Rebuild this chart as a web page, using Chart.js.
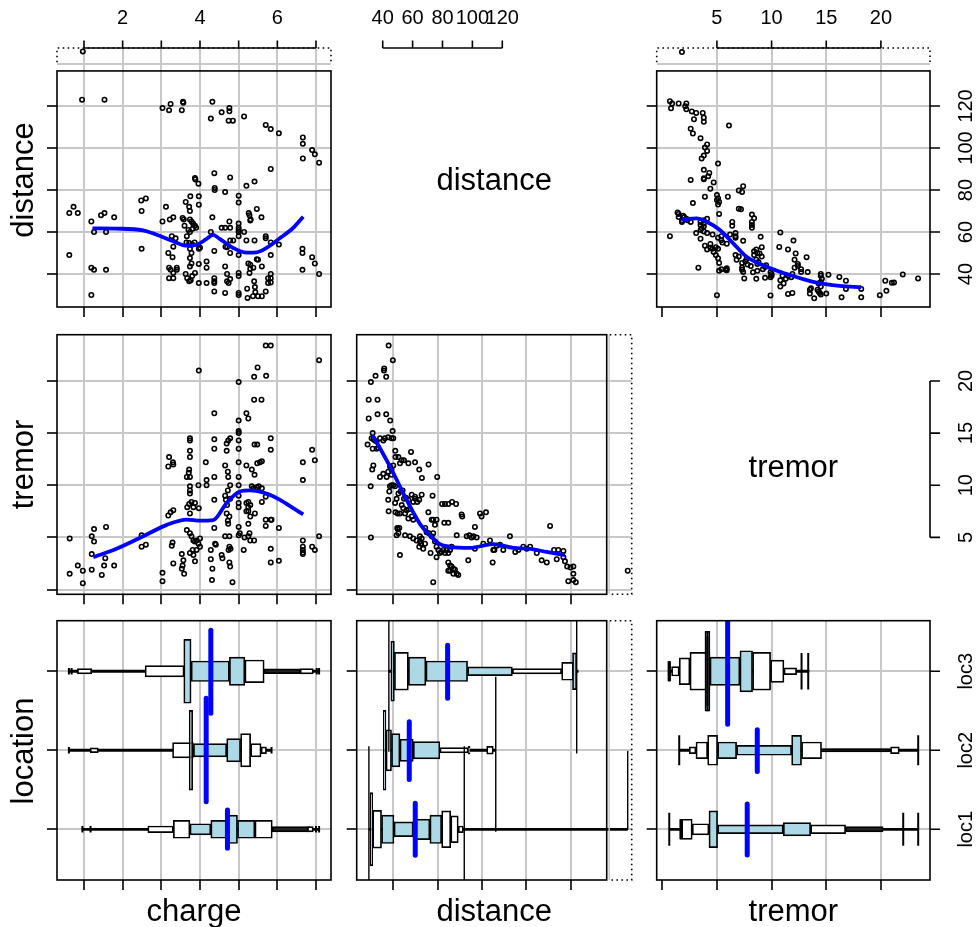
<!DOCTYPE html>
<html>
<head>
<meta charset="utf-8">
<script src="https://cdn.jsdelivr.net/npm/chart.js@4.4.1/dist/chart.umd.min.js"></script>
<style>
  html, body { margin: 0; padding: 0; background: #fff; }
  #wrap { position: relative; width: 977px; height: 927px; }
  #wrap canvas { position: absolute; left: 0; top: 0; }
</style>
</head>
<body>
<div id="wrap"></div>
<script>
// ---------------- data ----------------
const locations = ['loc1', 'loc2', 'loc3'];
const chargeTicks = [1, 2, 3, 4, 5, 6, 7];
const chargeLabels = [2, 4, 6];
const distanceTicks = [40, 60, 80, 100, 120];
const distanceRowTicks = [40, 60, 80, 100, 120, 140];
const tremorTicks = [0, 5, 10, 15, 20];
const tremorLabels = [5, 10, 15, 20];

// [charge, distance]
const chargeDistance = [
  [0.97,146],[0.95,123],[1.53,123],[3.03,119],[3.2,118],[3.24,121],[3.53,118],[3.56,122],[3.57,121.5],
  [4.32,122],[4.28,114],[4.56,117],[4.76,119],[4.76,117.5],[4.74,113],[4.85,113],[5.14,115],[5.7,111],
  [5.83,109],[6.04,107],[6.66,105],[6.66,102],[6.66,95],[6.9,99],[6.97,97],[7.08,93],[5.83,90],[4.37,88],
  [4.78,86],[3.87,85.7],[3.88,85],[3.96,83],[5.2,82],[5.41,84],[4.38,81],[4.38,80],[4.65,79],[5.0,77.3],
  [5.0,74],[3.97,77],[3.75,77],[3.97,73],[3.63,74.3],[3.72,72],[3.74,70],[3.12,72],[2.48,75],[2.6,76],
  [2.49,70],[0.62,69],[0.73,72],[0.84,69],[1.19,65],[1.44,68],[1.53,69],[1.78,67],[1.26,60],[1.57,60],
  [0.62,49],[1.19,43],[1.26,42],[1.57,42],[1.19,30],[2.49,52],[3.03,65],[3.22,66],[3.31,67],[3.55,66.7],
  [3.58,66],[3.74,66],[3.78,65],[3.82,64],[3.87,63],[3.81,61.5],[3.74,60],[3.7,61],[3.6,63],[3.66,58],
  [3.9,62],[4.32,67],[4.56,62],[4.65,62],[4.78,62],[4.76,65],[5.0,64],[5.0,62],[5.0,61],[5.26,69],
  [5.28,68],[5.31,66],[5.3,65.5],[5.47,71],[5.59,67],[4.28,60],[3.97,52],[3.27,58],[3.37,57],[3.31,53],
  [3.65,55],[3.72,54.8],[3.8,54],[3.86,55],[4.37,51],[4.66,53],[4.7,52.7],[4.78,56],[4.86,56],[5.0,60],
  [5.0,58],[5.14,60],[5.2,56],[5.41,56],[5.7,58],[5.7,57],[5.83,55],[6.04,54],[5.83,49],[5.0,49],
  [4.78,50],[6.65,52],[6.65,50],[6.9,48],[6.97,45],[7.08,40],[6.65,42],[3.18,50],[3.29,48],[3.2,43],
  [3.24,42],[3.31,40.5],[3.2,38],[3.31,38],[3.4,43],[3.4,42],[3.63,40],[3.67,38],[3.72,36.5],[3.76,37],
  [3.8,39],[3.74,43.6],[3.78,45],[3.74,47.6],[3.78,50],[3.74,52],[3.97,44.8],[3.87,40.5],[3.97,35.7],
  [4.17,46],[4.17,43],[4.17,35.7],[4.37,38],[4.37,36.5],[4.37,35.7],[4.37,31.7],[4.65,43.6],[4.7,40],
  [4.7,36.5],[4.74,35.7],[4.78,37.6],[4.65,31],[5.0,40.5],[5.0,39],[5.0,31],[5.0,30],[5.22,33],[5.23,28.6],
  [5.25,45],[5.3,44.4],[5.3,42.5],[5.28,40.5],[5.47,47],[5.5,46.8],[5.38,43],[5.4,36.5],[5.42,33.8],
  [5.43,31.4],[5.37,29.4],[5.5,29.4],[5.6,29.4],[5.7,31.7],[5.6,43.6],[5.76,38],[5.83,40],[5.83,38],
  [5.83,36],[5.76,35.7],[4.0,52.5]
];

// [charge, tremor]
const chargeTremor = [
  [0.63,4.9],[0.63,1.5],[0.84,2.3],[0.97,1.8],[0.97,0.6],[1.2,5.1],[1.26,4.6],[1.26,5.8],[1.2,3.4],[1.2,1.9],
  [1.46,1.4],[1.52,2.3],[1.55,3.0],[1.57,6.0],[1.78,2.3],[2.49,5.2],[2.49,4.1],[2.6,4.3],[3.03,1.6],[3.03,0.8],
  [3.2,12.7],[3.18,11.8],[3.31,12.0],[3.3,12.2],[3.18,7.1],[3.24,7.4],[3.31,7.6],[3.27,4.2],[3.29,4.5],[3.31,2.5],
  [3.53,3.4],[3.57,2.8],[3.55,2.3],[3.59,1.5],[3.53,2.0],[3.66,10.8],[3.71,11.2],[3.72,11.5],[3.74,10.8],
  [3.74,9.9],[3.74,9.5],[3.74,9.2],[3.72,8.2],[3.78,8.4],[3.83,7.9],[3.74,7.3],[3.67,7.9],[3.74,14.5],
  [3.74,14.3],[3.74,13.3],[3.74,12.7],[3.97,21.0],[3.96,10.0],[3.97,7.8],[3.87,8.3],[3.66,5.7],[3.74,5.4],
  [3.78,5.1],[3.83,4.7],[3.87,4.6],[3.91,4.7],[3.96,4.4],[4.0,4.9],[4.0,4.1],[3.91,3.8],[3.81,3.8],[3.74,3.5],
  [3.83,3.3],[3.87,2.7],[4.17,10.5],[4.17,10.0],[4.15,12.2],[4.37,16.9],[4.37,14.4],[4.37,13.5],[4.37,10.8],
  [4.37,8.6],[4.37,5.9],[4.28,3.8],[4.39,4.4],[4.41,4.3],[4.28,2.9],[4.32,2.0],[4.31,0.9],[4.56,3.3],[4.58,3.0],
  [4.69,14.0],[4.73,14.3],[4.78,14.5],[4.69,13.3],[4.65,11.9],[4.72,11.3],[4.73,10.8],[4.78,10.0],[4.72,9.5],
  [4.65,9.0],[4.67,8.6],[4.78,8.7],[4.7,8.1],[4.69,7.3],[4.76,7.0],[4.73,6.3],[4.72,6.6],[4.65,5.1],[4.76,5.1],
  [4.76,4.1],[4.79,3.9],[4.74,3.8],[4.76,2.6],[4.78,2.2],[4.84,0.7],[5.0,19.9],[5.0,16.2],[5.0,15.2],[5.0,15.0],
  [5.0,14.3],[5.0,13.5],[5.0,12.2],[5.0,10.8],[5.0,10.0],[5.0,9.0],[5.0,8.3],[5.0,7.9],[5.0,6.0],[5.0,5.2],
  [5.2,16.9],[5.25,16.4],[5.2,11.9],[5.34,11.5],[5.41,11.0],[5.48,12.1],[5.55,12.2],[5.6,12.3],[5.41,13.9],
  [5.48,13.9],[5.4,18.2],[5.59,18.2],[5.4,20.4],[5.49,21.3],[5.71,20.5],[5.7,23.4],[5.83,23.4],[5.83,14.5],
  [5.83,13.4],[5.6,9.7],[5.47,9.8],[5.38,9.7],[5.2,8.3],[5.25,7.9],[5.3,8.1],[5.25,8.4],[5.25,7.5],[5.2,7.5],
  [5.3,7.0],[5.25,6.3],[5.42,7.3],[5.34,9.9],[5.52,9.9],[5.6,8.4],[5.7,8.9],[5.7,6.7],[5.83,6.7],[5.85,6.7],
  [5.7,6.1],[5.03,5.4],[5.15,5.0],[5.25,5.1],[5.28,5.4],[5.4,4.7],[5.3,4.7],[5.13,3.8],[5.83,3.9],[5.83,2.6],
  [6.04,5.9],[6.04,2.75],[6.66,12.2],[6.66,10.5],[6.9,13.4],[6.97,12.4],[7.08,22.0],[7.08,5.1],[6.66,4.7],
  [6.66,4.1],[6.66,3.8],[6.66,3.55],[6.66,3.4],[6.9,4.1],[6.97,3.8]
];

// [distance, tremor]
const distanceTremor = [
  [37.9,23.4],[39.8,22.0],[35.9,21.2],[35.8,21.0],[36.8,20.4],[32.0,20.5],[29.9,19.9],[28.9,18.2],[32.9,18.2],
  [32.9,16.8],[36.8,16.8],[28.9,16.4],[38.6,16.2],[39.7,15.2],[30.7,15.0],[28.4,13.9],[30.2,14.5],[31.0,14.4],
  [31.7,14.3],[32.5,14.2],[34.0,14.5],[35.5,14.3],[36.2,14.5],[37.7,14.6],[39.2,14.5],[40.0,14.5],[30.7,13.5],
  [32.5,13.5],[33.2,13.6],[40.9,13.3],[31.0,11.9],[30.5,11.5],[29.8,9.9],[29.9,5.0],[34.0,10.8],[35.5,11.1],
  [37.0,10.8],[37.7,11.3],[39.2,11.0],[39.2,11.5],[38.5,11.8],[40.0,11.9],[41.0,12.7],[42.3,12.7],[43.8,12.4],
  [44.8,12.4],[43.0,12.1],[46.8,12.1],[48.0,13.2],[49.8,12.2],[51.7,11.5],[52.9,10.7],[55.9,12.0],[59.8,10.8],
  [38.2,9.4],[37.7,8.6],[37.9,7.5],[38.5,9.9],[39.2,10.0],[40.0,10.0],[40.8,9.9],[40.8,8.3],[41.5,8.7],
  [41.0,7.4],[42.0,7.3],[41.8,5.9],[42.0,5.8],[43.0,7.3],[43.8,8.1],[44.5,7.8],[45.3,7.3],[46.0,7.6],[46.8,6.8],
  [47.0,7.7],[48.3,7.0],[49.0,6.7],[49.9,8.7],[50.8,8.4],[51.7,8.6],[52.8,9.1],[42.3,9.2],[43.3,9.4],[44.2,9.5],
  [44.8,8.7],[45.7,8.8],[46.8,8.6],[48.3,9.1],[49.0,8.4],[49.8,8.9],[41.5,5.2],[42.3,5.4],[42.7,5.9],[45.3,5.2],
  [43.0,3.3],[47.5,5.1],[49.0,4.9],[50.5,4.7],[52.0,4.6],[51.7,4.1],[52.5,4.4],[53.5,3.9],[54.3,4.4],[52.0,5.1],
  [52.8,4.9],[55.8,7.4],[57.3,6.7],[58.0,6.7],[59.5,6.7],[58.8,6.2],[57.7,9.0],[56.8,3.5],[58.0,0.7],[54.4,5.9],
  [55.0,5.5],[56.1,5.4],[57.3,5.1],[58.0,5.4],[58.8,4.6],[59.5,4.1],[60.3,3.8],[59.5,3.1],[61.0,3.5],[61.8,3.6],
  [62.6,3.8],[63.3,3.5],[64.1,3.8],[64.8,3.5],[65.6,3.8],[66.3,4.1],[62.0,8.2],[63.3,8.2],[64.8,8.2],[66.5,8.4],
  [68.3,8.2],[63.0,6.4],[64.8,6.4],[64.8,2.6],[65.6,2.3],[66.3,2.2],[67.1,2.0],[67.8,1.9],[68.6,1.5],[69.3,1.4],
  [67.1,1.5],[65.6,1.8],[64.8,1.8],[68.6,5.2],[70.8,7.2],[71.1,7.0],[73.1,5.1],[74.3,5.2],[75.3,5.0],[76.1,5.1],
  [76.8,6.0],[77.6,5.0],[76.8,3.9],[79.1,7.3],[79.8,7.0],[81.8,7.4],[73.8,2.8],[80.6,4.4],[83.6,4.7],[85.1,3.8],
  [85.6,3.8],[84.8,2.6],[86.6,4.2],[88.1,4.3],[89.6,3.8],[92.6,5.1],[95.0,3.6],[96.4,3.8],[98.6,4.1],[100.2,3.9],
  [101.7,4.1],[104.7,3.5],[106.9,2.8],[109.2,2.6],[110.7,6.1],[112.5,3.8],[114.4,3.8],[116.7,3.7],[113.7,2.9],
  [116.7,3.1],[117.4,2.7],[118.4,2.2],[119.9,2.1],[121.2,2.2],[121.2,1.5],[121.2,0.9],[122.3,0.7],[118.9,0.8],
  [145.7,1.8]
];

// smoothers
const loessChargeDistance = [[1.22,61.7],[1.84,61.6],[2.53,60.8],[2.88,58.7],[3.31,55.6],[3.66,53.5],[3.92,54],
  [4.17,56.7],[4.34,58.6],[4.51,56.7],[4.86,52.4],[5.2,50.2],[5.46,50.3],[5.72,52.4],[6.07,57.1],[6.41,62],[6.67,67.3]];
const loessChargeTremor = [[1.24,3.1],[1.84,3.9],[2.53,5.1],[3.14,6.2],[3.66,6.7],[4.0,6.6],[4.34,6.65],[4.69,8.3],
  [5.03,9.4],[5.29,9.5],[5.72,9.2],[6.07,8.6],[6.41,7.8],[6.67,7.2]];
const loessDistanceTremor = [[30.7,14.8],[38.5,11.8],[46,8.6],[52,6.3],[56.5,5.2],[61,4.35],[65.6,4.1],[74.6,4.0],
  [85.1,4.35],[94.1,4.0],[101.7,3.9],[109.2,3.6],[117.4,3.3]];
const loessTremorDistance = [[1.77,66],[3.14,66.5],[4.06,64.9],[5.27,61],[6.49,54.6],[7.71,48.2],[9.54,43.5],
  [11.67,39.5],[13.8,36.3],[16.24,34.3],[18.2,33.7]];

// letter-value boxes: [location, low, high, half depth, kind]  kind b = inner level, w = outer level, k = tail
const chargeBoxes = [
  [3,0.83,1.20,0.034,'w'],[3,2.58,3.59,0.072,'w'],[3,3.77,4.76,0.13,'b'],[3,4.76,5.16,0.18,'b'],
  [3,5.16,5.66,0.143,'w'],[3,5.66,6.59,0.03,'k'],[3,6.59,6.93,0.034,'w'],[3,3.58,3.77,0.405,'b'],
  [2,1.16,1.37,0.03,'w'],[2,3.29,3.83,0.097,'w'],[2,3.83,4.69,0.084,'b'],[2,4.69,5.05,0.148,'b'],
  [2,5.05,5.31,0.21,'w'],[2,5.31,5.58,0.084,'w'],[2,5.58,5.72,0.042,'w'],[2,3.72,3.81,0.506,'b'],
  [1,2.65,3.31,0.042,'w'],[1,3.31,3.74,0.114,'w'],[1,3.74,4.28,0.07,'b'],[1,4.28,4.69,0.114,'b'],
  [1,4.97,5.42,0.114,'b'],[1,5.42,5.87,0.114,'w'],[1,5.87,6.84,0.034,'k'],[1,6.78,6.93,0.034,'w'],
  [1,4.69,4.97,0.18,'b']
];
const chargeWhiskers = [[3,0.6,7.1],[2,0.61,5.85],[1,0.94,7.1]];
const chargeCaps = [[3,0.61,0.042],[3,0.68,0.042],[3,7.02,0.042],[3,7.08,0.042],[2,0.61,0.042],[2,5.85,0.042],
  [1,0.96,0.042],[1,1.17,0.042],[1,7.0,0.042],[1,7.08,0.042]];
const chargeMedians = [[4.28,2.47,3.52],[4.16,1.35,2.66],[4.71,0.76,1.245]];

const distanceBoxes = [
  [3,40.5,46.8,0.24,'w'],[3,46.8,54.7,0.18,'b'],[3,54.7,73.5,0.13,'b'],[3,73.5,93.7,0.055,'b'],
  [3,93.7,115.9,0.034,'w'],[3,115.9,121.2,0.114,'w'],[3,120.8,122.7,0.232,'b'],[3,38.9,40.5,0.38,'b'],
  [2,36.7,39.2,0.26,'w'],[2,39.2,43,0.21,'b'],[2,43,49,0.14,'b'],[2,49,61,0.11,'b'],
  [2,61,73.8,0.034,'w'],[2,73.8,74.6,0.05,'w'],[2,82.1,85.1,0.05,'w'],[2,35.5,36.7,0.506,'b'],
  [1,30.7,34.7,0.24,'w'],[1,34.7,40.3,0.18,'b'],[1,40.3,49,0.093,'b'],[1,49,56.5,0.13,'b'],
  [1,56.5,61.8,0.18,'b'],[1,61.8,65.9,0.232,'w'],[1,65.9,69.3,0.169,'w'],[1,69.3,71.6,0.042,'w'],
  [1,29.5,30.7,0.464,'b']
];
const distanceWhiskers = [[3,37.7,123.5],[2,35.5,86.2],[1,29.0,145.7]];
const distanceCaps = [];
const distanceRules = [[122.7,1.96,3.64],[38.0,1.98,3.64],[86.2,0.97,2.93],[72.0,0.36,2.05],[29.0,0.36,2.05],[145.7,0.99,1.99]];
const distanceMedians = [[64.5,2.66,3.33],[47.2,1.63,2.36],[49.9,0.67,1.33]];

const tremorBoxes = [
  [3,0.85,1.55,0.06,'w'],[3,1.55,2.53,0.169,'w'],[3,2.53,4.36,0.24,'w'],[3,4.36,7.1,0.18,'b'],
  [3,7.1,8.26,0.26,'b'],[3,8.26,9.91,0.24,'w'],[3,9.91,11.13,0.14,'w'],[3,11.13,12.29,0.042,'w'],
  [3,3.9,4.36,0.506,'b'],
  [2,2.47,3.08,0.042,'w'],[2,3.08,4.15,0.105,'w'],[2,4.15,5.06,0.19,'w'],[2,5.06,6.8,0.105,'b'],
  [2,6.8,11.83,0.063,'b'],[2,11.83,12.74,0.19,'b'],[2,12.74,14.57,0.105,'w'],[2,14.57,20.82,0.021,'k'],
  [2,20.88,21.68,0.042,'w'],
  [1,1.77,2.74,0.127,'w'],[1,2.74,4.27,0.07,'w'],[1,5.06,11.07,0.055,'b'],[1,11.07,13.57,0.084,'b'],
  [1,13.57,16.77,0.055,'w'],[1,16.77,20.2,0.034,'k'],[1,4.27,5.06,0.232,'b']
];
const tremorWhiskers = [[3,0.55,13.45],[2,1.55,23.41],[1,0.64,23.41]];
const tremorCaps = [[3,0.58,0.127],[3,0.64,0.127],[3,0.7,0.127],[3,12.74,0.232],[3,13.35,0.232],[2,1.55,0.19],[2,23.41,0.19],
  [1,0.64,0.21],[1,1.66,0.127],[1,1.71,0.127],[1,1.76,0.127],[1,22.04,0.21],[1,23.41,0.21],
  [3,4.13,0.506],[3,4.13,0.44]];
const tremorMedians = [[5.98,2.33,3.64],[8.69,1.73,2.26],[7.77,0.675,1.32]];

// ---------------- layout / style ----------------
const W = 977, H = 927;
const COLS = [{l: 57, r: 331}, {l: 356.7, r: 631.7}, {l: 656.7, r: 930}];
const ROWS = [{t: 48, b: 307}, {t: 334.7, b: 594.3}, {t: 620.7, b: 880}];
const CHARGE_RANGE = [0.302, 7.388];
const DIST_X_RANGE = [23.5, 147.5];
const DIST_Y_RANGE = [24.29, 147.62];
const TREMOR_X_RANGE = [-0.51, 24.49];
const TREMOR_Y_RANGE = [-0.46, 24.44];
const LOC_RANGE = [0.358, 3.64];
const DIST_MAIN_X = 136.23, DIST_MAIN_Y = 136.7, DIST_STRIP_Y = 140.8;
const LOC_PX = (ROWS[2].b - ROWS[2].t) / (LOC_RANGE[1] - LOC_RANGE[0]);

const GRID = '#c8c8c8', BLUE = '#0000ff';
const FILL = {b: '#add8e6', w: '#ffffff', k: '#222222'};
const FONT = '"Liberation Sans", Arial, Helvetica, sans-serif';
const CLEAR = 'rgba(0,0,0,0)';

function addChart(cfg) {
  const c = document.createElement('canvas');
  c.width = W; c.height = H;
  document.getElementById('wrap').appendChild(c);
  return new Chart(c.getContext('2d'), cfg);
}

function axis(pos, range, ticks, noGrid, noTick) {
  noGrid = noGrid || []; noTick = noTick || [];
  return {
    type: 'linear', position: pos, min: range[0], max: range[1], offset: false,
    afterBuildTicks: s => { s.ticks = ticks.map(v => ({value: v})); },
    ticks: {display: false},
    border: {display: false},
    grid: {
      offset: false,
      color: c => (c.tick && noGrid.includes(c.tick.value)) ? CLEAR : GRID,
      lineWidth: 2,
      drawTicks: true, tickLength: 10, tickWidth: 1.6,
      tickColor: c => (c.tick && noTick.includes(c.tick.value)) ? CLEAR : '#000'
    }
  };
}

function baseOptions(col, row, xAxis, yAxis) {
  const c = COLS[col], r = ROWS[row];
  return {
    responsive: false, animation: false, devicePixelRatio: 1, events: [],
    layout: {autoPadding: false, padding: {left: c.l - 10, top: r.t, right: W - c.r, bottom: H - r.b - 10}},
    plugins: {legend: {display: false}, tooltip: {enabled: false}},
    scales: {x: xAxis, y: yAxis}
  };
}

function decoPlugin(fn) {
  return {id: 'deco', afterDraw(chart) { const ctx = chart.ctx; ctx.save(); fn(chart, ctx); ctx.restore(); }};
}

// ---------------- drawing helpers ----------------
function txt(ctx, s, x, y, px, rot) {
  ctx.save();
  ctx.font = px + 'px ' + FONT; ctx.fillStyle = '#000';
  ctx.textAlign = 'center'; ctx.textBaseline = 'alphabetic';
  ctx.translate(x, y); if (rot) ctx.rotate(rot);
  ctx.fillText(s, 0, 0);
  ctx.restore();
}
function frame(ctx, l, t, r, b) {
  ctx.setLineDash([]); ctx.strokeStyle = '#000'; ctx.lineWidth = 1.6;
  ctx.strokeRect(l, t, r - l, b - t);
}
function dotted(ctx, pts) {
  ctx.save();
  ctx.setLineDash([1.6, 3.4]); ctx.strokeStyle = '#000'; ctx.lineWidth = 1.6;
  ctx.beginPath(); ctx.moveTo(pts[0][0], pts[0][1]);
  pts.slice(1).forEach(p => ctx.lineTo(p[0], p[1]));
  ctx.stroke(); ctx.restore();
}
function topAxis(ctx, sc, ticks, labels, y) {
  ctx.setLineDash([]); ctx.strokeStyle = '#000'; ctx.lineWidth = 1.6;
  ctx.beginPath();
  ctx.moveTo(sc.getPixelForValue(ticks[0]), y);
  ctx.lineTo(sc.getPixelForValue(ticks[ticks.length - 1]), y);
  ticks.forEach(v => { const x = sc.getPixelForValue(v); ctx.moveTo(x, y); ctx.lineTo(x, y - 7.5); });
  ctx.stroke();
  labels.forEach(v => txt(ctx, String(v), sc.getPixelForValue(v), 24, 20));
}
function rightAxis(ctx, sc, ticks, labels, x, withLine) {
  ctx.setLineDash([]); ctx.strokeStyle = '#000'; ctx.lineWidth = 1.6;
  ctx.beginPath();
  if (withLine) {
    ctx.moveTo(x, sc.getPixelForValue(ticks[0]));
    ctx.lineTo(x, sc.getPixelForValue(ticks[ticks.length - 1]));
  }
  ticks.forEach(v => { const y = sc.getPixelForValue(v); ctx.moveTo(x, y); ctx.lineTo(x + 10, y); });
  ctx.stroke();
  ticks.forEach((v, i) => txt(ctx, String(labels[i]), 972, sc.getPixelForValue(v), 20, -Math.PI / 2));
}
function leftTitle(ctx, s, y) { txt(ctx, s, 33, y, 31, -Math.PI / 2); }
function bottomTitle(ctx, s, x) { txt(ctx, s, x, 921, 31); }

function topStrip(chart, ctx) {
  const a = chart.chartArea, sy = chart.scales.y;
  const yb = sy.getPixelForValue(DIST_STRIP_Y);
  dotted(ctx, [[a.left, yb], [a.left, a.top], [a.right, a.top], [a.right, yb]]);
  frame(ctx, a.left, sy.getPixelForValue(DIST_MAIN_Y), a.right, a.bottom);
}
function rightStrip(chart, ctx) {
  const a = chart.chartArea, sx = chart.scales.x;
  const xm = sx.getPixelForValue(DIST_MAIN_X);
  ctx.strokeStyle = GRID; ctx.lineWidth = 1.5;
  ctx.beginPath(); ctx.moveTo(xm + 2.5, a.top); ctx.lineTo(xm + 2.5, a.bottom); ctx.stroke();
  dotted(ctx, [[xm + 3, a.top], [a.right, a.top], [a.right, a.bottom], [xm + 3, a.bottom]]);
  frame(ctx, a.left, a.top, xm, a.bottom);
}

// ---------------- scatter panels ----------------
function scatterPanel(col, row, xAxis, yAxis, pts, smooth, deco) {
  const ds = [
    {data: pts.map(p => ({x: p[0], y: p[1]})), pointRadius: 2.2, pointBorderWidth: 1.6,
     pointBorderColor: '#000', pointBackgroundColor: CLEAR, showLine: false},
    {data: smooth.map(p => ({x: p[0], y: p[1]})), showLine: true, borderColor: BLUE, borderWidth: 3.8,
     pointRadius: 0, fill: false, cubicInterpolationMode: 'monotone'}
  ];
  ds.forEach((d, i) => d.order = -i);
  addChart({type: 'scatter', data: {datasets: ds},
    options: baseOptions(col, row, xAxis, yAxis), plugins: [decoPlugin(deco)]});
}

// row 1, col 1: charge vs distance
scatterPanel(0, 0,
  axis('bottom', CHARGE_RANGE, chargeTicks),
  axis('left', DIST_Y_RANGE, distanceRowTicks, [], [140]),
  chargeDistance, loessChargeDistance,
  (ch, ctx) => {
    topStrip(ch, ctx);
    topAxis(ctx, ch.scales.x, chargeTicks, chargeLabels, ch.chartArea.top);
    leftTitle(ctx, 'distance', 180);
  });

// row 1, col 3: tremor vs distance
scatterPanel(2, 0,
  axis('bottom', TREMOR_X_RANGE, tremorTicks, [0]),
  axis('left', DIST_Y_RANGE, distanceRowTicks, [], [140]),
  distanceTremor.map(p => [p[1], p[0]]), loessTremorDistance,
  (ch, ctx) => {
    topStrip(ch, ctx);
    topAxis(ctx, ch.scales.x, tremorLabels, tremorLabels, ch.chartArea.top);
    rightAxis(ctx, ch.scales.y, distanceTicks, distanceTicks, ch.chartArea.right, false);
  });

// row 2, col 1: charge vs tremor
scatterPanel(0, 1,
  axis('bottom', CHARGE_RANGE, chargeTicks),
  axis('left', TREMOR_Y_RANGE, tremorTicks),
  chargeTremor, loessChargeTremor,
  (ch, ctx) => {
    const a = ch.chartArea;
    frame(ctx, a.left, a.top, a.right, a.bottom);
    leftTitle(ctx, 'tremor', 464.5);
  });

// row 2, col 2: distance vs tremor
scatterPanel(1, 1,
  axis('bottom', DIST_X_RANGE, distanceTicks),
  axis('left', TREMOR_Y_RANGE, tremorTicks),
  distanceTremor, loessDistanceTremor,
  (ch, ctx) => rightStrip(ch, ctx));

// ---------------- diagonal panels ----------------
function diagPanel(xAxis, yAxis, deco, pad) {
  addChart({type: 'scatter', data: {datasets: []},
    options: {
      responsive: false, animation: false, devicePixelRatio: 1, events: [],
      layout: {autoPadding: false, padding: pad},
      plugins: {legend: {display: false}, tooltip: {enabled: false}},
      scales: {x: xAxis, y: yAxis}
    },
    plugins: [decoPlugin(deco)]});
}
diagPanel(
  {type: 'linear', display: false, min: 40, max: 120},
  {type: 'linear', display: false, min: 0, max: 1},
  (ch, ctx) => {
    topAxis(ctx, ch.scales.x, distanceTicks, distanceTicks, ROWS[0].t);
    txt(ctx, 'distance', (COLS[1].l + COLS[1].r) / 2, 190, 31);
  },
  {left: 382.7, right: W - 502.3, top: ROWS[0].t, bottom: H - ROWS[0].b});
diagPanel(
  {type: 'linear', display: false, min: 0, max: 1},
  {type: 'linear', display: false, min: TREMOR_Y_RANGE[0], max: TREMOR_Y_RANGE[1]},
  (ch, ctx) => {
    rightAxis(ctx, ch.scales.y, tremorLabels, tremorLabels, COLS[2].r, true);
    txt(ctx, 'tremor', (COLS[2].l + COLS[2].r) / 2, 477, 31);
  },
  {left: COLS[2].l, right: W - COLS[2].r, top: ROWS[1].t, bottom: H - ROWS[1].b});

// ---------------- letter-value panels (row 3) ----------------
function seg(pts, color, width, cap) {
  return {type: 'line', data: pts, borderColor: color, borderWidth: width, pointRadius: 0,
          fill: false, tension: 0, borderCapStyle: cap || 'butt'};
}
function lvPanel(col, xAxis, boxes, whiskers, caps, rules, medians, deco) {
  const ds = [];
  whiskers.forEach(([loc, lo, hi]) => ds.push(seg([{x: lo, y: loc}, {x: hi, y: loc}], '#000', 2.8)));
  boxes.forEach(([loc, lo, hi, half, kind]) => ds.push({
    type: 'bar', indexAxis: 'y', grouped: false, data: [{x: [lo, hi], y: loc}],
    barThickness: 2 * half * LOC_PX, backgroundColor: FILL[kind], borderColor: '#000',
    borderWidth: 1.7, borderSkipped: false
  }));
  caps.forEach(([loc, v, h]) => ds.push(seg([{x: v, y: loc - h}, {x: v, y: loc + h}], '#000', 2)));
  rules.forEach(([v, a, b]) => ds.push(seg([{x: v, y: a}, {x: v, y: b}], '#000', 1.4)));
  medians.forEach(([v, a, b]) => ds.push(seg([{x: v, y: a}, {x: v, y: b}], BLUE, 5, 'round')));
  ds.forEach((d, i) => d.order = -i);
  addChart({type: 'bar', data: {datasets: ds},
    options: baseOptions(col, 2, xAxis, axis('left', LOC_RANGE, [1, 2, 3])),
    plugins: [decoPlugin(deco)]});
}

lvPanel(0, axis('bottom', CHARGE_RANGE, chargeTicks),
  chargeBoxes, chargeWhiskers, chargeCaps, [], chargeMedians,
  (ch, ctx) => {
    const a = ch.chartArea;
    frame(ctx, a.left, a.top, a.right, a.bottom);
    leftTitle(ctx, 'location', 751);
    bottomTitle(ctx, 'charge', (COLS[0].l + COLS[0].r) / 2);
  });

lvPanel(1, axis('bottom', DIST_X_RANGE, distanceTicks),
  distanceBoxes, distanceWhiskers, distanceCaps, distanceRules, distanceMedians,
  (ch, ctx) => {
    rightStrip(ch, ctx);
    bottomTitle(ctx, 'distance', (COLS[1].l + COLS[1].r) / 2);
  });

lvPanel(2, axis('bottom', TREMOR_X_RANGE, tremorTicks, [0]),
  tremorBoxes, tremorWhiskers, tremorCaps, [], tremorMedians,
  (ch, ctx) => {
    const a = ch.chartArea;
    frame(ctx, a.left, a.top, a.right, a.bottom);
    rightAxis(ctx, ch.scales.y, [1, 2, 3], locations, a.right, false);
    bottomTitle(ctx, 'tremor', (COLS[2].l + COLS[2].r) / 2);
  });
</script>
</body>
</html>
